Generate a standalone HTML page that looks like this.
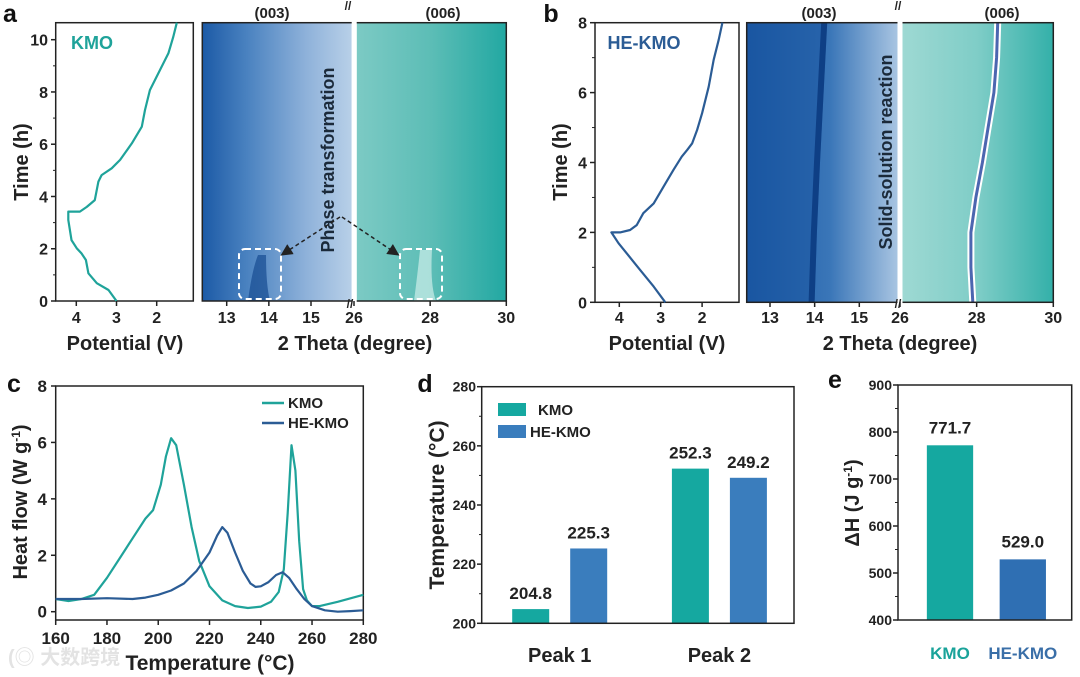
<!DOCTYPE html>
<html><head><meta charset="utf-8"><style>
html,body{margin:0;padding:0;background:#fff;}
svg{display:block;font-family:"Liberation Sans","Noto Sans CJK SC",sans-serif;font-weight:bold;}
</style></head><body>
<svg id="fig" width="1080" height="677" viewBox="0 0 1080 677" xmlns="http://www.w3.org/2000/svg">
<defs>
<linearGradient id="gA1" x1="0" x2="1" y1="0" y2="0"><stop offset="0" stop-color="#1c5aa6"/><stop offset="0.3" stop-color="#4a82c0"/><stop offset="0.7" stop-color="#8fb2da"/><stop offset="1" stop-color="#b8d0e8"/></linearGradient>
<linearGradient id="gA2" x1="0" x2="1" y1="0" y2="0"><stop offset="0" stop-color="#7ccac4"/><stop offset="0.5" stop-color="#5cbdb6"/><stop offset="1" stop-color="#22a8a2"/></linearGradient>
<linearGradient id="gB1" x1="0" x2="1" y1="0" y2="0"><stop offset="0" stop-color="#1a57a3"/><stop offset="0.55" stop-color="#3a76b8"/><stop offset="1" stop-color="#a9c5e2"/></linearGradient>
<linearGradient id="gB2" x1="0" x2="1" y1="0" y2="0"><stop offset="0" stop-color="#9ed9d3"/><stop offset="0.5" stop-color="#7fcdc7"/><stop offset="1" stop-color="#33b0a9"/></linearGradient>
<marker id="arr" markerWidth="8" markerHeight="8" refX="6" refY="4" orient="auto"><path d="M0,0 L8,4 L0,8 z" fill="#222"/></marker>
</defs>
<g id="root"></g>
</svg>
<script>
// ---- data ----
const kmoV = [3.0,3.2,3.49,3.7,3.76,3.87,3.99,4.12,4.2,4.2,3.91,3.74,3.54,3.45,3.37,3.12,2.91,2.62,2.37,2.29,2.17,1.96,1.71,1.59,1.5];
const kmoT = [0,0.42,0.68,1.06,1.57,1.82,2.02,2.33,3.1,3.42,3.42,3.6,3.86,4.57,4.82,5.08,5.4,6.03,6.67,7.31,8.07,8.71,9.48,10.1,10.65];
const heV = [2.89,3.17,3.5,3.82,4.02,4.19,3.98,3.74,3.58,3.42,3.17,2.93,2.69,2.49,2.36,2.24,2.12,2.0,1.84,1.72,1.6,1.51];
const heT = [0,0.45,0.93,1.4,1.69,2.0,2.0,2.07,2.21,2.55,2.83,3.31,3.79,4.17,4.36,4.55,4.93,5.41,6.17,6.94,7.51,8.0];
const peak006T = [0,1,2,3,4,5,6,7,8];
const peak006X = [27.9,27.85,27.85,27.98,28.15,28.3,28.45,28.52,28.55];
const peak003T = [0,2,4,6,8];
const peak003X = [14.0,14.05,14.12,14.2,14.28];
const dscKmoT = [160,165,170,175,180,185,190,195,198,201,203,205,207,210,213,216,220,225,230,235,240,244,247,249,250.5,252,253.5,255,256.5,258,260,263,270,280];
const dscKmoV = [0.45,0.38,0.45,0.6,1.2,1.9,2.6,3.3,3.6,4.5,5.5,6.15,5.9,4.5,3.0,1.8,0.9,0.4,0.2,0.13,0.18,0.35,0.7,1.5,3.5,5.9,5.0,2.5,0.8,0.4,0.2,0.2,0.35,0.6];
const dscHeT = [160,170,180,190,195,200,205,210,215,220,223,225,227,230,233,236,238,240,243,246,248.5,251,254,257,260,265,270,275,280];
const dscHeV = [0.45,0.45,0.48,0.45,0.5,0.6,0.75,1.0,1.45,2.1,2.7,3.0,2.8,2.1,1.45,1.0,0.88,0.9,1.05,1.3,1.4,1.2,0.8,0.45,0.2,0.05,0.0,0.02,0.05];
const peakCats = ["Peak 1","Peak 2"];
const peakKmo = [204.8,252.3];
const peakHe = [225.3,249.2];
const peakTicks = [200,220,240,260,280];
const dhCats = ["KMO","HE-KMO"];
const dhVals = [771.7,529.0];
const dhTicks = [400,500,600,700,800,900];

const NS="http://www.w3.org/2000/svg";
const root=document.getElementById('root');
function el(tag,attrs,parent){const e=document.createElementNS(NS,tag);for(const k in attrs)e.setAttribute(k,attrs[k]);(parent||root).appendChild(e);return e;}
function txt(x,y,s,size,anchor,fill,rot){const e=el('text',{x:x,y:y,'font-size':size,'text-anchor':anchor||'middle',fill:fill||'#222'});if(rot)e.setAttribute('transform','rotate(-90 '+x+' '+y+')');e.textContent=s;return e;}
function lin(d0,d1,r0,r1){return v=>r0+(v-d0)*(r1-r0)/(d1-d0);}
function pathOf(xs,ys,fx,fy){return xs.map((v,i)=>(i?'L':'M')+fx(v).toFixed(1)+','+fy(ys[i]).toFixed(1)).join(' ');}
const TEAL='#1fa39a', BLUE='#2b5c95';

// ===== Panel a =====
{
 const fy=lin(0,10,301,39.7), fx=lin(4,3,76.3,116.5);
 let e=txt(10,22,'a',25,'middle','#111');
 
 
 e=el('rect',{x:55.7,y:22.7,width:137.6,height:278.3,fill:'none',stroke:'#222','stroke-width':1.5});
 
 
 e=el('path',{d:pathOf(kmoV,kmoT,fx,fy),fill:'none',stroke:TEAL,'stroke-width':2.2,'stroke-linejoin':'round'});
 
 
 [0,2,4,6,8,10].forEach(t=>{el('line',{x1:51,x2:55.7,y1:fy(t),y2:fy(t),stroke:'#222','stroke-width':1.5});
  const l=txt(48,fy(t)+6,String(t),16,'end');
  
  });
 [1,3,5,7,9].forEach(t=>el('line',{x1:53,x2:55.7,y1:fy(t),y2:fy(t),stroke:'#222','stroke-width':1}));
 [4,3,2].forEach(v=>{el('line',{x1:fx(v),x2:fx(v),y1:301,y2:306,stroke:'#222','stroke-width':1.5});
  const l=txt(fx(v),323,String(v),16);
  
  });
 e=txt(28,162,'Time (h)',20,'middle','#222',true);
 
 
 e=txt(125,350,'Potential (V)',20);
 
 
 e=txt(92,49,'KMO',18,'middle',TEAL);
 
 
 const hx1=lin(13,15,226.7,311), hx2=lin(26,30,354,506.3);
 e=el('rect',{x:202.3,y:22.7,width:149.4,height:278.3,fill:'url(#gA1)'});
 
 
 e=el('rect',{x:356.7,y:22.7,width:149.6,height:278.3,fill:'url(#gA2)'});
 
 
 el('path',{d:'M248,301 Q252,270 258,255 L266,255 Q266,285 270,301 Z',fill:'#174c91',opacity:0.7});
 el('path',{d:'M414,301 Q418,270 420,250 L432,250 Q430,285 436,301 Z',fill:'#cdeee9',opacity:0.7});
 el('rect',{x:202.3,y:22.7,width:304,height:278.3,fill:'none',stroke:'#222','stroke-width':1.5});
 el('rect',{x:351.7,y:20,width:5,height:284,fill:'#fff'});
 [13,14,15].forEach(v=>{el('line',{x1:hx1(v),x2:hx1(v),y1:301,y2:306,stroke:'#222','stroke-width':1.5});const l=txt(hx1(v),323,String(v),16);
  
  });
 [26,28,30].forEach(v=>{el('line',{x1:hx2(v),x2:hx2(v),y1:301,y2:306,stroke:'#222','stroke-width':1.5});const l=txt(hx2(v),323,String(v),16);
  
  });
 txt(348,10,'//',12);txt(350,308,'//',12);
 txt(272,18,'(003)',15); txt(443,18,'(006)',15);
 e=txt(355,350,'2 Theta (degree)',20);
 
 
 e=txt(334,160,'Phase transformation',18,'middle','#1b2a3a',true);
 
 
 el('rect',{x:239,y:249,width:42,height:50,rx:6,fill:'none',stroke:'#fff','stroke-width':2,'stroke-dasharray':'6 4'});
 el('rect',{x:400,y:249,width:42,height:50,rx:6,fill:'none',stroke:'#fff','stroke-width':2,'stroke-dasharray':'6 4'});
 el('line',{x1:340,y1:217,x2:283,y2:254,stroke:'#222','stroke-width':1.5,'stroke-dasharray':'4 3','marker-end':'url(#arr)'});
 el('line',{x1:342,y1:217,x2:397,y2:254,stroke:'#222','stroke-width':1.5,'stroke-dasharray':'4 3','marker-end':'url(#arr)'});
}

// ===== Panel b =====
{
 const fy=lin(0,8,302.3,22.7), fx=lin(4,3,619.3,660.7);
 let e=txt(551,22,'b',25,'middle','#111');
 
 
 el('rect',{x:595,y:22.7,width:144,height:279.6,fill:'none',stroke:'#222','stroke-width':1.5});
 e=el('path',{d:pathOf(heV,heT,fx,fy),fill:'none',stroke:BLUE,'stroke-width':2.2,'stroke-linejoin':'round'});
 
 
 [0,2,4,6,8].forEach(t=>{el('line',{x1:590,x2:595,y1:fy(t),y2:fy(t),stroke:'#222','stroke-width':1.5});txt(587,fy(t)+6,String(t),16,'end');});
 [1,3,5,7].forEach(t=>el('line',{x1:592,x2:595,y1:fy(t),y2:fy(t),stroke:'#222','stroke-width':1}));
 [4,3,2].forEach(v=>{el('line',{x1:fx(v),x2:fx(v),y1:302,y2:307,stroke:'#222','stroke-width':1.5});txt(fx(v),323,String(v),16);});
 e=txt(567,162,'Time (h)',20,'middle','#222',true);
 
 
 txt(667,350,'Potential (V)',20);
 e=txt(644,49,'HE-KMO',18,'middle',BLUE);
 
 
 const hx1=lin(13,15,770,859.3), hx2=lin(26,30,900,1053.3);
 e=el('rect',{x:746.7,y:22.7,width:151.3,height:279.6,fill:'url(#gB1)'});
 
 
 e=el('rect',{x:902,y:22.7,width:151.3,height:279.6,fill:'url(#gB2)'});
 
 
 const b3=peak003X.map((v,i)=>[hx1(v),fy(peak003T[i])]);
 el('path',{d:'M746.7,302.3 '+b3.map(p=>'L'+p[0].toFixed(1)+','+p[1].toFixed(1)).join(' ')+' L746.7,22.7 Z',fill:'#1a55a0',opacity:0.55});
 e=el('path',{d:b3.map((p,i)=>(i?'L':'M')+(p[0]-3).toFixed(1)+','+p[1].toFixed(1)).join(' '),fill:'none',stroke:'#0e3f85','stroke-width':6});
 
 
 const d6=peak006X.map((v,i)=>(i?'L':'M')+hx2(v).toFixed(1)+','+fy(peak006T[i]).toFixed(1)).join(' ');
 el('path',{d:d6,fill:'none',stroke:'#fff','stroke-width':7});
 e=el('path',{d:d6,fill:'none',stroke:'#4c66b0','stroke-width':3});
 
 
 el('rect',{x:746.7,y:22.7,width:306.6,height:279.6,fill:'none',stroke:'#222','stroke-width':1.5});
 el('rect',{x:897.5,y:20,width:5,height:285,fill:'#fff'});
 [13,14,15].forEach(v=>{el('line',{x1:hx1(v),x2:hx1(v),y1:302,y2:307,stroke:'#222','stroke-width':1.5});txt(hx1(v),323,String(v),16);});
 [26,28,30].forEach(v=>{el('line',{x1:hx2(v),x2:hx2(v),y1:302,y2:307,stroke:'#222','stroke-width':1.5});txt(Math.min(hx2(v),1062),323,String(v),16);});
 txt(898,10,'//',12);txt(898,308,'//',12);
 txt(819,18,'(003)',15); txt(1002,18,'(006)',15);
 txt(900,350,'2 Theta (degree)',20);
 e=txt(892,152,'Solid-solution reaction',18,'middle','#1b2a3a',true);
 
 
}

// ===== Panel c =====
{
 const fx=lin(160,280,55.7,363.3), fy=lin(0,8,611.7,386);
 let e=txt(14,392,'c',25,'middle','#111');
 
 
 el('rect',{x:55.7,y:386,width:307.6,height:234,fill:'none',stroke:'#222','stroke-width':1.5});
 e=el('path',{d:pathOf(dscKmoT,dscKmoV,fx,fy),fill:'none',stroke:TEAL,'stroke-width':2.2,'stroke-linejoin':'round'});
 
 
 e=el('path',{d:pathOf(dscHeT,dscHeV,fx,fy),fill:'none',stroke:BLUE,'stroke-width':2.2,'stroke-linejoin':'round'});
 
 
 [0,2,4,6,8].forEach(v=>{el('line',{x1:51,x2:55.7,y1:fy(v),y2:fy(v),stroke:'#222','stroke-width':1.5});txt(47,fy(v)+6,String(v),17,'end');});
 [160,180,200,220,240,260,280].forEach(v=>{el('line',{x1:fx(v),x2:fx(v),y1:620,y2:625,stroke:'#222','stroke-width':1.5});txt(fx(v),644,String(v),17);});
 e=txt(27,502,'Heat flow (W g',20,'middle','#222',true);
 const ts=el('tspan',{'font-size':12,dy:-7},e);ts.textContent='-1';
 const ts2=el('tspan',{dy:7},e);ts2.textContent=')';
 
 
 e=txt(210,670,'Temperature (°C)',21);
 
 
 e=el('line',{x1:262,x2:284,y1:403,y2:403,stroke:TEAL,'stroke-width':2.5});
 
 
 txt(288,408,'KMO',15,'start');
 e=el('line',{x1:262,x2:284,y1:423,y2:423,stroke:BLUE,'stroke-width':2.5});
 
 
 txt(288,428,'HE-KMO',15,'start');
 e=txt(8,664,'(◎ 大数跨境',20,'start','#ddd');
 e.setAttribute('opacity','0.8');
 
 
}

// ===== Panel d =====
{
 const fy=lin(200,280,623.3,386.7);
 const cx=[559.7,719.4], off=29, bw=37;
 let e=txt(425,392,'d',25,'middle','#111');
 
 
 peakCats.forEach((c,i)=>{
  let b=el('rect',{x:cx[i]-off-bw/2,y:fy(peakKmo[i]),width:bw,height:fy(200)-fy(peakKmo[i]),fill:'#15a8a0'});
  
  
  txt(cx[i]-off,fy(peakKmo[i])-10,peakKmo[i].toFixed(1),17);
  b=el('rect',{x:cx[i]+off-bw/2,y:fy(peakHe[i]),width:bw,height:fy(200)-fy(peakHe[i]),fill:'#3a7dbd'});
  
  
  txt(cx[i]+off,fy(peakHe[i])-10,peakHe[i].toFixed(1),17);
  const l=txt(cx[i],662,c,20);
  
  
 });
 el('rect',{x:481.7,y:386.7,width:312.3,height:236.6,fill:'none',stroke:'#222','stroke-width':1.5});
 peakTicks.forEach(v=>{el('line',{x1:477,x2:481.7,y1:fy(v),y2:fy(v),stroke:'#222','stroke-width':1.5});txt(476,fy(v)+5,String(v),14,'end');});
 [210,230,250,270].forEach(v=>el('line',{x1:479,x2:481.7,y1:fy(v),y2:fy(v),stroke:'#222','stroke-width':1}));
 e=txt(444,505,'Temperature (°C)',21,'middle','#222',true);
 
 
 e=el('rect',{x:498,y:403,width:28,height:13,fill:'#15a8a0'});
 
 
 txt(538,415,'KMO',15,'start');
 e=el('rect',{x:498,y:425,width:28,height:13,fill:'#3a7dbd'});
 
 
 txt(530,437,'HE-KMO',15,'start');
}

// ===== Panel e =====
{
 const fy=lin(400,900,620,385);
 const cx=[950,1022.8], bw=46.3, cols=['#15a8a0','#2f6fb3'], tcol=['#1aa39a','#3a6fa8'];
 let e=txt(835,388,'e',25,'middle','#111');
 
 
 dhCats.forEach((c,i)=>{
  const b=el('rect',{x:cx[i]-bw/2,y:fy(dhVals[i]),width:bw,height:fy(400)-fy(dhVals[i]),fill:cols[i]});
  
  
  txt(cx[i],fy(dhVals[i])-12,dhVals[i].toFixed(1),17);
  const l=txt(cx[i],659,c,17,'middle',tcol[i]);
  
  
 });
 el('rect',{x:898,y:385,width:173.7,height:235,fill:'none',stroke:'#222','stroke-width':1.5});
 dhTicks.forEach(v=>{el('line',{x1:893,x2:898,y1:fy(v),y2:fy(v),stroke:'#222','stroke-width':1.5});txt(892,fy(v)+5,String(v),14,'end');});
 [450,550,650,750,850].forEach(v=>el('line',{x1:895,x2:898,y1:fy(v),y2:fy(v),stroke:'#222','stroke-width':1}));
 e=txt(859,503,'ΔH (J g',20,'middle','#222',true);
 const ts=el('tspan',{'font-size':12,dy:-7},e);ts.textContent='-1';
 const ts2=el('tspan',{dy:7},e);ts2.textContent=')';
 
 
}
</script>
</body></html>
